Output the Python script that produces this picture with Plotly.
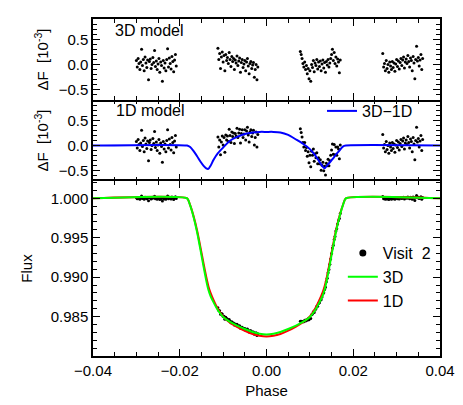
import plotly.graph_objects as go
from plotly.subplots import make_subplots

# ---- observed points (Visit 2), four HST orbits ----
phase = [
    # orbit 1
    -0.0300, -0.0298, -0.0296, -0.0294, -0.0292, -0.0290, -0.0288, -0.0286, -0.0284, -0.0282,
    -0.0280, -0.0278, -0.0276, -0.0274, -0.0272, -0.0270, -0.0268, -0.0266, -0.0264, -0.0262,
    -0.0260, -0.0258, -0.0256, -0.0254, -0.0252, -0.0250, -0.0248, -0.0246, -0.0244, -0.0242,
    -0.0240, -0.0238, -0.0236, -0.0234, -0.0232, -0.0230, -0.0228, -0.0226, -0.0224, -0.0222,
    -0.0220, -0.0218, -0.0216, -0.0214, -0.0212, -0.0210, -0.0208,
    # orbit 2
    -0.0112, -0.0110, -0.0108, -0.0106, -0.0104, -0.0102, -0.0100, -0.0098, -0.0096, -0.0094,
    -0.0092, -0.0090, -0.0088, -0.0086, -0.0084, -0.0082, -0.0080, -0.0078, -0.0076, -0.0074,
    -0.0072, -0.0070, -0.0068, -0.0066, -0.0064, -0.0062, -0.0060, -0.0058, -0.0056, -0.0054,
    -0.0052, -0.0050, -0.0048, -0.0046, -0.0044, -0.0042, -0.0040, -0.0038, -0.0036, -0.0034,
    -0.0032, -0.0030, -0.0028, -0.0026, -0.0024, -0.0022, -0.0020,
    # orbit 3
    0.0078, 0.0080, 0.0082, 0.0084, 0.0086, 0.0088, 0.0090, 0.0092, 0.0094, 0.0096,
    0.0098, 0.0100, 0.0102, 0.0104, 0.0106, 0.0108, 0.0110, 0.0112, 0.0114, 0.0116,
    0.0118, 0.0120, 0.0122, 0.0124, 0.0126, 0.0128, 0.0130, 0.0132, 0.0134, 0.0136,
    0.0138, 0.0140, 0.0142, 0.0144, 0.0146, 0.0148, 0.0150, 0.0152, 0.0154, 0.0156,
    0.0158, 0.0160, 0.0162, 0.0164, 0.0166, 0.0168, 0.0170,
    # orbit 4
    0.0268, 0.0270, 0.0272, 0.0274, 0.0276, 0.0278, 0.0280, 0.0282, 0.0284, 0.0286,
    0.0288, 0.0290, 0.0292, 0.0294, 0.0296, 0.0298, 0.0300, 0.0302, 0.0304, 0.0306,
    0.0308, 0.0310, 0.0312, 0.0314, 0.0316, 0.0318, 0.0320, 0.0322, 0.0324, 0.0326,
    0.0328, 0.0330, 0.0332, 0.0334, 0.0336, 0.0338, 0.0340, 0.0342, 0.0344, 0.0346,
    0.0348, 0.0350, 0.0352, 0.0354, 0.0356, 0.0358, 0.0360,
]

# residuals to the 3D model, in units of 1e-3
dflux_3d = [
    0.08, -0.05, 0.12, 0.02, -0.10, 0.05, 0.30, -0.02, 0.10, -0.12,
    0.15, 0.03, -0.06, 0.09, -0.30, 0.06, 0.11, -0.08, 0.00, 0.14,
    0.04, 0.28, -0.04, 0.07, -0.10, 0.01, 0.12, -0.15, 0.05, -0.02,
    -0.33, 0.08, -0.07, 0.03, -0.12, 0.10, 0.31, -0.05, 0.13, 0.02,
    -0.09, 0.16, 0.06, -0.14, 0.09, 0.20, -0.03,
    0.32, 0.10, 0.22, -0.08, 0.15, 0.25, 0.05, 0.18, -0.12, 0.20,
    0.08, 0.14, 0.02, 0.24, 0.10, -0.04, 0.16, 0.06, 0.12, -0.10,
    0.09, 0.03, 0.17, -0.02, 0.07, 0.13, -0.15, 0.04, 0.10, -0.06,
    0.01, 0.08, -0.12, 0.05, 0.12, -0.03, -0.18, 0.02, 0.06, -0.08,
    -0.01, 0.04, -0.25, -0.10, 0.00, -0.30, -0.05,
    0.26, 0.20, 0.12, 0.02, -0.05, 0.05, -0.10, -0.02, -0.18, -0.08,
    -0.28, -0.12, -0.33, 0.00, -0.06, 0.08, -0.14, 0.03, -0.02, 0.10,
    -0.09, 0.05, -0.04, 0.07, -0.12, 0.01, 0.09, -0.07, 0.04, -0.15,
    0.06, -0.01, 0.10, -0.05, 0.03, 0.12, 0.20, 0.30, 0.08, 0.24,
    0.02, 0.15, -0.03, 0.11, 0.05, -0.16, 0.09,
    0.22, -0.05, 0.02, -0.12, 0.08, -0.08, 0.00, -0.15, 0.05, -0.03,
    -0.10, 0.06, -0.06, 0.03, -0.13, 0.01, 0.10, -0.04, 0.07, -0.09,
    0.04, 0.12, -0.02, 0.09, 0.15, -0.07, 0.05, 0.11, 0.02, 0.18,
    0.06, -0.05, 0.13, 0.08, -0.12, 0.16, 0.03, -0.28, 0.10, 0.36,
    0.07, 0.14, -0.03, 0.09, 0.20, -0.10, 0.12,
]

# residuals to the 1D model, in units of 1e-3
dflux_1d = [
    0.08, -0.05, 0.12, 0.02, -0.10, 0.05, 0.30, -0.02, 0.10, -0.12,
    0.15, 0.03, -0.06, 0.09, -0.30, 0.06, 0.11, -0.08, 0.00, 0.14,
    0.04, 0.28, -0.04, 0.07, -0.10, 0.01, 0.12, -0.15, 0.05, -0.02,
    -0.33, 0.08, -0.07, 0.03, -0.12, 0.10, 0.31, -0.05, 0.13, 0.02,
    -0.09, 0.16, 0.06, -0.14, 0.09, 0.20, -0.03,
    0.17, -0.03, 0.11, -0.18, 0.07, 0.19, 0.01, 0.16, -0.13, 0.21,
    0.11, 0.19, 0.08, 0.32, 0.20, 0.06, 0.27, 0.18, 0.25, 0.04,
    0.24, 0.19, 0.34, 0.16, 0.25, 0.32, 0.05, 0.24, 0.31, 0.16,
    0.23, 0.31, 0.11, 0.29, 0.36, 0.21, 0.07, 0.27, 0.31, 0.18,
    0.25, 0.30, 0.01, 0.16, 0.27, -0.03, 0.22,
    0.33, 0.26, 0.17, 0.06, -0.03, 0.06, -0.10, -0.04, -0.21, -0.12,
    -0.34, -0.19, -0.42, -0.11, -0.19, -0.07, -0.31, -0.16, -0.24, -0.14,
    -0.36, -0.24, -0.36, -0.28, -0.49, -0.39, -0.33, -0.50, -0.41, -0.58,
    -0.35, -0.40, -0.27, -0.40, -0.30, -0.19, -0.09, 0.03, -0.17, 0.02,
    -0.18, -0.03, -0.19, -0.03, -0.07, -0.26, 0.01,
    0.22, -0.05, 0.02, -0.12, 0.08, -0.08, 0.00, -0.15, 0.05, -0.03,
    -0.10, 0.06, -0.06, 0.03, -0.13, 0.01, 0.10, -0.04, 0.07, -0.09,
    0.04, 0.12, -0.02, 0.09, 0.15, -0.07, 0.05, 0.11, 0.02, 0.18,
    0.06, -0.05, 0.13, 0.08, -0.12, 0.16, 0.03, -0.28, 0.10, 0.36,
    0.07, 0.14, -0.03, 0.09, 0.20, -0.10, 0.12,
]

# normalised flux
flux = [
    1.00008, 0.99995, 1.00012, 1.00002, 0.99990, 1.00005, 1.00030, 0.99998, 1.00010, 0.99988,
    1.00015, 1.00003, 0.99994, 1.00009, 0.99970, 1.00006, 1.00011, 0.99992, 1.00000, 1.00014,
    1.00004, 1.00028, 0.99996, 1.00007, 0.99990, 1.00001, 1.00012, 0.99985, 1.00005, 0.99998,
    0.99967, 1.00008, 0.99993, 1.00003, 0.99988, 1.00010, 1.00031, 0.99995, 1.00013, 1.00002,
    0.99991, 1.00016, 1.00006, 0.99986, 1.00009, 1.00020, 0.99997,
    0.98612, 0.98576, 0.98574, 0.98530, 0.98538, 0.98534, 0.98500, 0.98505, 0.98467, 0.98491,
    0.98471, 0.98469, 0.98449, 0.98463, 0.98442, 0.98422, 0.98436, 0.98420, 0.98420, 0.98393,
    0.98406, 0.98394, 0.98402, 0.98378, 0.98382, 0.98384, 0.98351, 0.98365, 0.98366, 0.98346,
    0.98348, 0.98350, 0.98326, 0.98339, 0.98342, 0.98323, 0.98303, 0.98319, 0.98319, 0.98301,
    0.98304, 0.98306, 0.98275, 0.98287, 0.98294, 0.98261, 0.98283,
    0.98440, 0.98440, 0.98438, 0.98434, 0.98434, 0.98452, 0.98445, 0.98461, 0.98453, 0.98471,
    0.98459, 0.98483, 0.98476, 0.98523, 0.98532, 0.98560, 0.98552, 0.98583, 0.98598, 0.98630,
    0.98631, 0.98665, 0.98676, 0.98710, 0.98714, 0.98750, 0.98785, 0.98801, 0.98844, 0.98873,
    0.98942, 0.98987, 0.99055, 0.99097, 0.99163, 0.99232, 0.99300, 0.99370, 0.99406, 0.99479,
    0.99515, 0.99585, 0.99615, 0.99676, 0.99718, 0.99744, 0.99807,
    1.00022, 0.99995, 1.00002, 0.99988, 1.00008, 0.99992, 1.00000, 0.99985, 1.00005, 0.99997,
    0.99990, 1.00006, 0.99994, 1.00003, 0.99987, 1.00001, 1.00010, 0.99996, 1.00007, 0.99991,
    1.00004, 1.00012, 0.99998, 1.00009, 1.00015, 0.99993, 1.00005, 1.00011, 1.00002, 1.00018,
    1.00006, 0.99995, 1.00013, 1.00008, 0.99988, 1.00016, 1.00003, 0.99972, 1.00010, 1.00036,
    1.00007, 1.00014, 0.99997, 1.00009, 1.00020, 0.99990, 1.00012,
]

# ---- model light curves ----
phase_model = [-0.0400, -0.0183, -0.0176, -0.0168, -0.0160, -0.0152, -0.0145, -0.0139, -0.0134,
               -0.0129, -0.0122, -0.0112, -0.0100, -0.0085, -0.0068, -0.0050, -0.0032, -0.0016,
               0.0000, 0.0016, 0.0032, 0.0050, 0.0068, 0.0085, 0.0100, 0.0112, 0.0122, 0.0129,
               0.0134, 0.0139, 0.0145, 0.0152, 0.0160, 0.0168, 0.0176, 0.0183, 0.0400]
flux_3d_model = [1.00000, 1.00000, 0.99910, 0.99760, 0.99570, 0.99340, 0.99130, 0.98960, 0.98840,
                 0.98760, 0.98680, 0.98580, 0.98495, 0.98435, 0.98385, 0.98342, 0.98305, 0.98283,
                 0.98274, 0.98283, 0.98305, 0.98342, 0.98385, 0.98435, 0.98495, 0.98580, 0.98680,
                 0.98760, 0.98840, 0.98960, 0.99130, 0.99340, 0.99570, 0.99760, 0.99910, 1.00000,
                 1.00000]
flux_1d_model = [1.00000, 1.00000, 0.99913, 0.99771, 0.99591, 0.99372, 0.99170, 0.99005, 0.98886,
                 0.98800, 0.98708, 0.98595, 0.98499, 0.98426, 0.98368, 0.98319, 0.98279, 0.98256,
                 0.98247, 0.98256, 0.98279, 0.98321, 0.98373, 0.98432, 0.98502, 0.98599, 0.98712,
                 0.98801, 0.98885, 0.99000, 0.99164, 0.99367, 0.99588, 0.99770, 0.99912, 1.00000,
                 1.00000]
diff_3d_1d = [0.0, 0.0, -0.03, -0.11, -0.21, -0.32, -0.40, -0.45, -0.46,
              -0.40, -0.28, -0.15, -0.04, 0.09, 0.17, 0.23, 0.26, 0.27,
              0.27, 0.27, 0.26, 0.21, 0.12, 0.03, -0.07, -0.19, -0.32,
              -0.41, -0.45, -0.40, -0.34, -0.27, -0.18, -0.10, -0.02, 0.0,
              0.0]

FONT = "Liberation Sans, Arial, sans-serif"

fig = make_subplots(rows=3, cols=1, shared_xaxes=True, vertical_spacing=0,
                    row_heights=[81, 81, 175])

dots = dict(color="black", size=3)

# top: residuals to 3D
fig.add_trace(go.Scatter(x=phase, y=dflux_3d, mode="markers", marker=dots,
                         showlegend=False, hoverinfo="skip"), row=1, col=1)

# middle: residuals to 1D plus 3D-1D
fig.add_trace(go.Scatter(x=phase, y=dflux_1d, mode="markers", marker=dots,
                         showlegend=False, hoverinfo="skip"), row=2, col=1)
fig.add_trace(go.Scatter(x=phase_model, y=diff_3d_1d, mode="lines", name="3D\u22121D",
                         line=dict(color="#0000ff", width=2, shape="spline", smoothing=0.6),
                         legend="legend2"), row=2, col=1)

# bottom: light curve
fig.add_trace(go.Scatter(x=phase, y=flux, mode="markers", marker=dots,
                         showlegend=False, hoverinfo="skip"), row=3, col=1)
fig.add_trace(go.Scatter(x=[None], y=[None], mode="markers", name="Visit\u00a0\u00a02",
                         marker=dict(color="black", size=7), legendrank=1), row=3, col=1)
fig.add_trace(go.Scatter(x=phase_model, y=flux_1d_model, mode="lines", name="1D",
                         line=dict(color="#ff0000", width=2, shape="spline", smoothing=0.5),
                         legendrank=3), row=3, col=1)
fig.add_trace(go.Scatter(x=phase_model, y=flux_3d_model, mode="lines", name="3D",
                         line=dict(color="#00ff00", width=2, shape="spline", smoothing=0.5),
                         legendrank=2), row=3, col=1)

axis_style = dict(showline=True, linecolor="black", linewidth=1.5, mirror="ticks",
                  ticks="inside", ticklen=7, tickwidth=1, tickcolor="black",
                  showgrid=False, zeroline=False, automargin=False,
                  tickfont=dict(family=FONT, size=15, color="black"))

for r in (1, 2, 3):
    fig.update_xaxes(range=[-0.04, 0.04], dtick=0.02, tick0=0, tickformat=".2f",
                     minor=dict(dtick=0.005, ticks="inside", ticklen=4, tickcolor="black"),
                     row=r, col=1, **axis_style)
# middle panel edges are drawn by its neighbours, so the boundaries stay single lines
fig.update_xaxes(showline=False, row=2, col=1)

ytitle = "\u0394F\u00a0\u00a0[10<sup>-3</sup>]"
for r in (1, 2):
    fig.update_yaxes(range=[-0.7, 0.9], dtick=0.5, tick0=0, tickformat=".1f",
                     minor=dict(dtick=0.1, ticks="inside", ticklen=4, tickcolor="black"),
                     title=dict(text=ytitle, font=dict(family=FONT, size=15, color="black"),
                                standoff=6),
                     row=r, col=1, **axis_style)

fig.update_yaxes(range=[0.9800, 1.0022], tickvals=[0.985, 0.990, 0.995, 1.000],
                 tickformat=".3f",
                 minor=dict(dtick=0.001, tick0=0.98, ticks="inside", ticklen=4,
                            tickcolor="black"),
                 title=dict(text="Flux", font=dict(family=FONT, size=15, color="black"),
                            standoff=14),
                 row=3, col=1, **axis_style)
fig.update_xaxes(title=dict(text="Phase", font=dict(family=FONT, size=15, color="black"),
                            standoff=8), row=3, col=1)

fig.add_annotation(text="3D model", x=0.058, y=0.966, xref="paper", yref="paper",
                   xanchor="left", yanchor="middle", showarrow=False,
                   font=dict(family=FONT, size=16, color="black"))
fig.add_annotation(text="1D model", x=0.061, y=0.729, xref="paper", yref="paper",
                   xanchor="left", yanchor="middle", showarrow=False,
                   font=dict(family=FONT, size=16, color="black"))

# the page body adds an 8 px offset, so the figure is 8 px smaller than the window
fig.update_layout(
    width=455, height=397,
    margin=dict(l=85, r=23, t=11, b=49, autoexpand=False),
    paper_bgcolor="white", plot_bgcolor="white",
    font=dict(family=FONT, size=15, color="black"),
    legend=dict(x=0.72, y=0.356, xanchor="left", yanchor="top", bgcolor="rgba(0,0,0,0)",
                font=dict(family=FONT, size=16, color="black"), itemwidth=30,
                tracegroupgap=0),
    legend2=dict(x=0.66, y=0.727, xanchor="left", yanchor="middle",
                 bgcolor="rgba(0,0,0,0)", itemwidth=30,
                 font=dict(family=FONT, size=16, color="black")),
)

fig.write_html("out.html")
